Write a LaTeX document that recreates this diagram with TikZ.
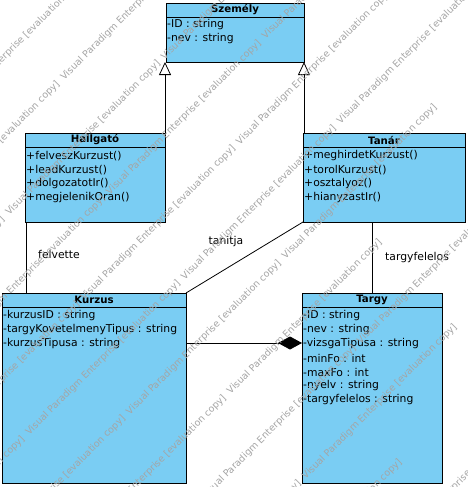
\documentclass[tikz,border=0pt]{standalone}
\usepackage{fontspec}
\setmainfont{DejaVu Sans}
\usetikzlibrary{arrows.meta}
\definecolor{vpblue}{RGB}{122,205,243}
\definecolor{wm}{RGB}{165,165,165}
\newcommand\wmtext{Visual Paradigm Enterprise [evaluation copy]\hspace{6pt}}
\tikzset{
  classbox/.style={draw=black, fill=vpblue, line width=0.9pt, inner sep=0pt, outer sep=0pt, rectangle},
  cname/.style={font=\fontsize{10.2}{12}\selectfont\bfseries, inner sep=0pt},
  attr/.style={font=\fontsize{10.8}{12}\selectfont, anchor=west, inner sep=0pt},
  hline/.style={draw=black, line width=0.9pt},
  conn/.style={draw=black, line width=0.8pt},
  gen/.style={conn, -{Triangle[open, length=13pt, width=12pt, fill=white]}},
  comp/.style={conn, -{Diamond[length=24pt, width=13pt]}},
  lbl/.style={font=\fontsize{10.8}{12}\selectfont, inner sep=0pt},
  wmark/.style={font=\fontsize{9.5}{11}\selectfont, text=wm, rotate=45, anchor=base west, inner sep=0pt},
}
\begin{document}
\begin{tikzpicture}[x=1pt, y=-1pt]
\fill[white] (0,0) rectangle (467,487);
\useasboundingbox (0,0) rectangle (467,487);

% class boxes
\node[classbox, minimum width=138, minimum height=59] (szemely) at (235,32.5) {};
\node[classbox, minimum width=140, minimum height=89] (hallgato) at (95,177.5) {};
\node[classbox, minimum width=162, minimum height=89] (tanar) at (384,177.5) {};
\node[classbox, minimum width=184, minimum height=190] (kurzus) at (94,388) {};
\node[classbox, minimum width=140, minimum height=190] (targy) at (372,388) {};

% header separators
\foreach \n in {szemely,hallgato,tanar,kurzus,targy}
  \draw[hline] ([yshift=-14pt]\n.north west) -- ([yshift=-14pt]\n.north east);

% names
\node[cname] (szemely-name) at ([yshift=-7pt]szemely.north) {Személy};
\node[cname] (hallgato-name) at ([yshift=-7pt]hallgato.north) {Hallgató};
\node[cname] (tanar-name) at ([yshift=-7pt]tanar.north) {Tanár};
\node[cname] (kurzus-name) at ([yshift=-7pt]kurzus.north) {Kurzus};
\node[cname] (targy-name) at ([yshift=-7pt]targy.north) {Targy};

% attributes / operations
\node[attr] (sz1) at (167,25) {-ID : string};
\node[attr] (sz2) at (167,39) {-nev : string};

\node[attr] (h1) at (26,156) {+felveszKurzust()};
\node[attr] (h2) at (26,170) {+leadKurzust()};
\node[attr] (h3) at (26,184) {+dolgozatotIr()};
\node[attr] (h4) at (26,198) {+megjelenikOran()};

\node[attr] (t1) at (304,156) {+meghirdetKurzust()};
\node[attr] (t2) at (304,170) {+torolKurzust()};
\node[attr] (t3) at (304,184) {+osztalyoz()};
\node[attr] (t4) at (304,198) {+hianyzastIr()};

\node[attr] (k1) at (3,316) {-kurzusID : string};
\node[attr] (k2) at (3,330) {-targyKovetelmenyTipus : string};
\node[attr] (k3) at (3,344) {-kurzusTipusa : string};

\node[attr] (g1) at (303,316) {-ID : string};
\node[attr] (g2) at (303,330) {-nev : string};
\node[attr] (g3) at (303,344) {-vizsgaTipusa : string};
\node[attr] (g4) at (303,358) {-minFo : int};
\node[attr] (g5) at (303,372) {-maxFo : int};
\node[attr] (g6) at (303,386) {-nyelv : string};
\node[attr] (g7) at (303,400) {-targyfelelos : string};

% connectors
\draw[gen] (hallgato.north east) -- (hallgato.north east |- szemely.south);
\draw[gen] ([xshift=1pt]tanar.north west) -- ([xshift=1pt]tanar.north west |- szemely.south);
\draw[conn] ([xshift=1pt]hallgato.south west) -- ([xshift=1pt]hallgato.south west |- kurzus.north);
\draw[conn] (tanar.south west) -- (kurzus.north east);
\draw[conn] (targy.north) -- (targy.north |- tanar.south);
\draw[comp] ([yshift=45pt]kurzus.east) -- ([yshift=45pt]targy.west);

% labels
\node[lbl, anchor=west] (felvette) at (38,254) {felvette};
\node[lbl] (tanitja) at (226,242) {tanitja};
\node[lbl, anchor=west] (targyfelelos) at (385,258) {targyfelelos};

% watermark
\begin{scope}
\clip (0,0) rectangle (467,487);
\foreach \k in {-1,...,11} {
  \pgfmathsetmacro{\cc}{65+80*\k}
  \pgfmathsetmacro{\xs}{mod(22+130*\k+1850,185)-555}
  \node[wmark] (wm\k) at (\xs, \cc-\xs) {\wmtext\wmtext\wmtext\wmtext\wmtext\wmtext};
}
\end{scope}
\end{tikzpicture}
\end{document}
